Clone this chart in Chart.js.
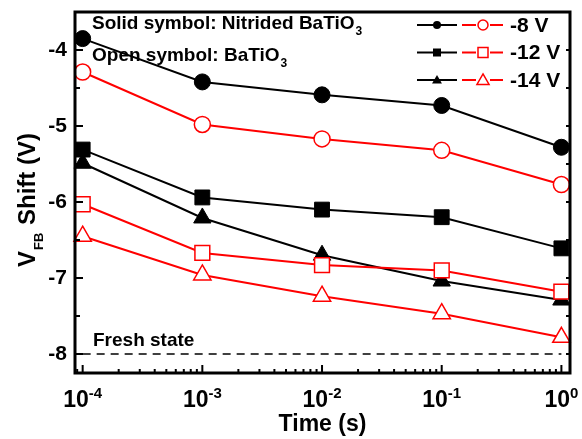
<!DOCTYPE html>
<html>
<head>
<meta charset="utf-8">
<script src="https://cdn.jsdelivr.net/npm/chart.js@4.4.0/dist/chart.umd.min.js"></script>
<style>
  html, body { margin: 0; padding: 0; background: #fff; }
</style>
</head>
<body>
<canvas id="vfbChart" width="582" height="439"></canvas>
<script>
// time points (s) and flat-band voltage shift (V)
var times = [1e-4, 1e-3, 1e-2, 1e-1, 1];
var nitrided8  = [-3.85, -4.42, -4.59, -4.73, -5.28];
var batio8     = [-4.29, -4.98, -5.17, -5.32, -5.77];
var nitrided12 = [-5.31, -5.94, -6.10, -6.20, -6.61];
var batio12    = [-6.03, -6.67, -6.83, -6.90, -7.18];
var nitrided14 = [-5.49, -6.21, -6.70, -7.04, -7.29];
var batio14    = [-6.45, -6.96, -7.24, -7.47, -7.78];
var freshTimes = [1e-4, 1];
var freshVfb   = [-8, -8];

var yTicks = [-8, -7, -6, -5, -4];
var xTicks = [1e-4, 1e-3, 1e-2, 1e-1, 1];
var legendLabels = ['-8 V', '-12 V', '-14 V'];
var legendStyles = ['circle', 'rect', 'triangle'];

var FONT = '"Liberation Sans", Arial, Helvetica, sans-serif';
Chart.defaults.font.family = FONT;

function pts(ys) {
  return times.map(function (t, i) { return { x: t, y: ys[i] }; });
}

function series(ys, style, solid, r) {
  var col = solid ? '#000000' : '#ff0000';
  return {
    data: pts(ys),
    borderColor: col,
    borderWidth: 2,
    pointStyle: style,
    pointRadius: r,
    pointBackgroundColor: solid ? '#000000' : '#ffffff',
    pointBorderColor: col,
    pointBorderWidth: solid ? 1 : 1.5,
    clip: false
  };
}

function drawMarker(ctx, style, x, y, r, solid, col) {
  ctx.beginPath();
  if (style === 'circle') {
    ctx.arc(x, y, r, 0, Math.PI * 2);
  } else if (style === 'rect') {
    ctx.rect(x - r, y - r, 2 * r, 2 * r);
  } else {
    ctx.moveTo(x, y - r * 1.1);
    ctx.lineTo(x + r * 1.1, y + r * 0.8);
    ctx.lineTo(x - r * 1.1, y + r * 0.8);
    ctx.closePath();
  }
  if (solid) {
    ctx.fillStyle = col;
    ctx.fill();
  } else {
    ctx.fillStyle = '#fff';
    ctx.fill();
    ctx.lineWidth = 1.5;
    ctx.strokeStyle = col;
    ctx.stroke();
  }
}

// frame, inward ticks, superscript/subscript labels, legend, notes
var decor = {
  id: 'decor',
  afterDraw: function (chart) {
    var ctx = chart.ctx, a = chart.chartArea;
    var xs = chart.scales.x, ys = chart.scales.y;
    ctx.save();
    ctx.strokeStyle = '#000';

    // ticks
    ctx.lineWidth = 2;
    ctx.beginPath();
    yTicks.forEach(function (v) {
      var p = ys.getPixelForValue(v);
      ctx.moveTo(a.left, p); ctx.lineTo(a.left + 8, p);
      ctx.moveTo(a.right, p); ctx.lineTo(a.right - 4, p);
      var h = ys.getPixelForValue(v + 0.5);
      if (h > a.top + 2) {
        ctx.moveTo(a.left, h); ctx.lineTo(a.left + 5, h);
        ctx.moveTo(a.right, h); ctx.lineTo(a.right - 4, h);
      }
    });
    xTicks.forEach(function (d) {
      var p = xs.getPixelForValue(d);
      ctx.moveTo(p, a.bottom); ctx.lineTo(p, a.bottom - 8);
      for (var k = 2; k <= 9; k++) {
        [d / 10, d].forEach(function (base) {
          var v = k * base;
          if (v > xs.min && v < xs.max && (base === d || d === xTicks[0])) {
            var q = xs.getPixelForValue(v);
            ctx.moveTo(q, a.bottom); ctx.lineTo(q, a.bottom - 4);
          }
        });
      }
    });
    ctx.stroke();

    ctx.lineWidth = 3;
    ctx.strokeRect(a.left, a.top, a.right - a.left, a.bottom - a.top);

    ctx.fillStyle = '#000';
    ctx.textBaseline = 'alphabetic';

    // x tick labels 10^n
    xTicks.forEach(function (d) {
      var p = xs.getPixelForValue(d);
      var ex = String(Math.round(Math.log10(d)));
      ctx.font = 'bold 23px ' + FONT;
      var w1 = ctx.measureText('10').width;
      ctx.font = 'bold 15px ' + FONT;
      var w2 = ctx.measureText(ex).width;
      var x0 = p - (w1 + w2) / 2;
      ctx.font = 'bold 23px ' + FONT;
      ctx.textAlign = 'left';
      ctx.fillText('10', x0, 407);
      ctx.font = 'bold 15px ' + FONT;
      ctx.fillText(ex, x0 + w1, 398);
    });

    // x title
    ctx.font = 'bold 23px ' + FONT;
    ctx.textAlign = 'center';
    ctx.fillText('Time (s)', (a.left + a.right) / 2, 431);

    // y title with subscript
    ctx.save();
    ctx.translate(35, 200);
    ctx.rotate(-Math.PI / 2);
    ctx.font = 'bold 24px ' + FONT;
    var wV = ctx.measureText('V').width;
    var wS = ctx.measureText(' Shift (V)').width;
    ctx.font = 'bold 13px ' + FONT;
    var wFB = ctx.measureText('FB').width + 2;
    var sx = -(wV + wFB + wS) / 2;
    ctx.textAlign = 'left';
    ctx.font = 'bold 24px ' + FONT;
    ctx.fillText('V', sx, 0);
    ctx.font = 'bold 13px ' + FONT;
    ctx.fillText('FB', sx + wV + 1, 8);
    ctx.font = 'bold 24px ' + FONT;
    ctx.fillText(' Shift (V)', sx + wV + wFB, 0);
    ctx.restore();

    // notes
    ctx.textAlign = 'left';
    ctx.font = 'bold 19px ' + FONT;
    var t1 = 'Solid symbol: Nitrided BaTiO';
    ctx.fillText(t1, 92, 29);
    var w = ctx.measureText(t1).width;
    ctx.font = 'bold 12px ' + FONT;
    ctx.fillText('3', 92 + w + 1, 35);
    ctx.font = 'bold 19px ' + FONT;
    var t2 = 'Open symbol: BaTiO';
    ctx.fillText(t2, 92, 61);
    w = ctx.measureText(t2).width;
    ctx.font = 'bold 12px ' + FONT;
    ctx.fillText('3', 92 + w + 1, 67);
    ctx.font = 'bold 19px ' + FONT;
    ctx.fillText('Fresh state', 93, 346);

    // legend
    legendLabels.forEach(function (lab, i) {
      var y = 25 + i * 27.5;
      var st = legendStyles[i];
      ctx.lineWidth = 2;
      ctx.strokeStyle = '#000';
      ctx.beginPath(); ctx.moveTo(417, y); ctx.lineTo(457, y); ctx.stroke();
      drawMarker(ctx, st, 437, y, st === 'triangle' ? 4.5 : 4, true, '#000');
      ctx.strokeStyle = '#ff0000';
      ctx.lineWidth = 2;
      ctx.beginPath();
      ctx.moveTo(462, y); ctx.lineTo(476, y);
      ctx.moveTo(490, y); ctx.lineTo(503, y);
      ctx.stroke();
      drawMarker(ctx, st, 483, y, st === 'triangle' ? 5.5 : 5, false, '#ff0000');
      ctx.fillStyle = '#000';
      ctx.font = 'bold 21px ' + FONT;
      ctx.textAlign = 'left';
      ctx.textBaseline = 'middle';
      ctx.fillText(lab, 510, y + 1);
      ctx.textBaseline = 'alphabetic';
    });

    ctx.restore();
  }
};

new Chart(document.getElementById('vfbChart').getContext('2d'), {
  type: 'line',
  data: {
    datasets: [
      series(nitrided8, 'circle', true, 8),
      series(batio8, 'circle', false, 8),
      series(nitrided12, 'rect', true, 10.5),
      series(batio12, 'rect', false, 10.5),
      series(nitrided14, 'triangle', true, 10),
      series(batio14, 'triangle', false, 10),
      {
        data: freshTimes.map(function (t, i) { return { x: t, y: freshVfb[i] }; }),
        borderColor: '#000',
        borderWidth: 1.5,
        borderDash: [8, 6],
        pointRadius: 0
      }
    ]
  },
  options: {
    responsive: false,
    animation: false,
    layout: { padding: { left: 0, right: 10, top: 11, bottom: 0 } },
    plugins: { legend: { display: false }, tooltip: { enabled: false } },
    scales: {
      x: {
        type: 'logarithmic',
        min: 8.63e-5,
        max: 1.18,
        grid: { display: false, drawTicks: false },
        border: { display: false },
        ticks: { display: false },
        afterFit: function (s) { s.height = 66; }
      },
      y: {
        min: -8.25,
        max: -3.5,
        grid: { display: false, drawTicks: false },
        border: { display: false },
        afterBuildTicks: function (s) {
          s.ticks = yTicks.map(function (v) { return { value: v }; });
        },
        ticks: {
          color: '#000',
          padding: 8,
          font: { size: 21, weight: 'bold' },
          callback: function (v) { return String(v); }
        },
        afterFit: function (s) {
          s.width = 75;
          s.paddingTop = 0;
          s.paddingBottom = 0;
        }
      }
    }
  },
  plugins: [decor]
});
</script>
</body>
</html>
